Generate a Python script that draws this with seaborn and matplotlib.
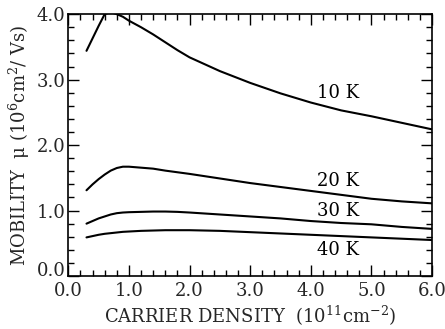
import numpy as np
import pandas as pd
import matplotlib
matplotlib.use("Agg")
import matplotlib.pyplot as plt
import seaborn as sns
from matplotlib.ticker import MultipleLocator, FormatStrFormatter

sns.set_theme(style="ticks")
plt.rcParams['font.family'] = ['DejaVu Serif']
plt.rcParams['mathtext.fontset'] = 'dejavuserif'

density = [0.3, 0.4, 0.5, 0.6, 0.7, 0.8, 0.9, 1.0, 1.2, 1.4, 1.6, 1.8, 2.0,
           2.5, 3.0, 3.5, 4.0, 4.5, 5.0, 5.5, 6.0]
mob_10K = [3.44, 3.63, 3.82, 4.00, 4.03, 4.00, 3.96, 3.90, 3.80, 3.69, 3.57, 3.45, 3.34,
           3.13, 2.95, 2.79, 2.65, 2.53, 2.44, 2.34, 2.24]
mob_20K = [1.31, 1.40, 1.48, 1.55, 1.61, 1.65, 1.67, 1.67, 1.655, 1.64, 1.61, 1.585, 1.56,
           1.49, 1.42, 1.36, 1.30, 1.24, 1.18, 1.14, 1.11]
mob_30K = [0.80, 0.84, 0.88, 0.91, 0.94, 0.96, 0.97, 0.975, 0.98, 0.985, 0.985, 0.98, 0.97,
           0.94, 0.91, 0.88, 0.84, 0.81, 0.79, 0.75, 0.72]
mob_40K = [0.59, 0.61, 0.63, 0.645, 0.655, 0.665, 0.675, 0.68, 0.69, 0.695, 0.70, 0.70, 0.70,
           0.69, 0.67, 0.65, 0.63, 0.61, 0.59, 0.57, 0.55]
temps = ["10 K", "20 K", "30 K", "40 K"]
label_x = [4.45, 4.45, 4.45, 4.45]
label_y = [2.79, 1.45, 0.99, 0.40]

rows = []
for t, vals in zip(temps, [mob_10K, mob_20K, mob_30K, mob_40K]):
    for d, v in zip(density, vals):
        rows.append({"density": d, "mobility": v, "T": t})
df = pd.DataFrame(rows)

fig = plt.figure(figsize=(4.45, 3.29), dpi=100)
ax = fig.add_axes([0.1535, 0.161, 0.8175, 0.796])
sns.lineplot(data=df, x="density", y="mobility", hue="T",
             palette=["black"] * 4, linewidth=1.5, legend=False, ax=ax)

for t, lx, ly in zip(temps, label_x, label_y):
    ax.text(lx, ly, t, ha="center", va="center", fontsize=13, color="black")

ax.set_xlim(0, 6)
ax.set_ylim(0, 4)
ax.xaxis.set_major_locator(MultipleLocator(1))
ax.xaxis.set_minor_locator(MultipleLocator(0.2))
ax.yaxis.set_major_locator(MultipleLocator(1))
ax.yaxis.set_minor_locator(MultipleLocator(0.2))
ax.xaxis.set_major_formatter(FormatStrFormatter("%.1f"))
ax.yaxis.set_major_formatter(FormatStrFormatter("%.1f"))
ax.tick_params(which="both", direction="in", top=True, right=True, color="black",
               labelsize=13, width=1.0)
ax.tick_params(axis="x", which="major", pad=4.5)
ax.tick_params(axis="y", which="major", pad=2)
ax.tick_params(which="major", length=8)
ax.tick_params(which="minor", length=4)
for s in ax.spines.values():
    s.set_linewidth(1.2)
    s.set_color("black")

ax.set_xlabel("CARRIER DENSITY  (10$^{11}$cm$^{-2}$)", fontsize=13, labelpad=3)
ax.set_ylabel("MOBILITY  μ (10$^{6}$cm$^{2}$/ Vs)", fontsize=13, labelpad=3)

fig.canvas.draw()
ylabels = ax.get_yticklabels()
for lab in ylabels:
    if lab.get_text() == "0.0":
        lab.set_va("baseline")

fig.savefig("out.png", dpi=100)
